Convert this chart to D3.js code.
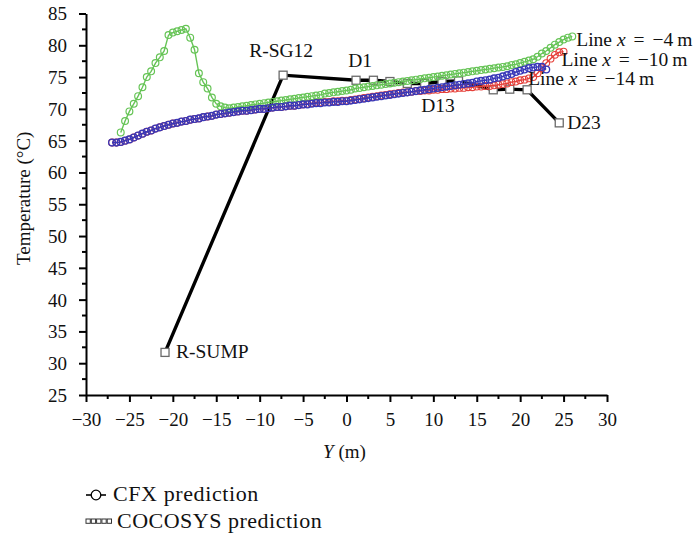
<!DOCTYPE html>
<html>
<head>
<meta charset="utf-8">
<script src="https://cdn.jsdelivr.net/npm/d3@7"></script>
<style>
  html, body { margin: 0; padding: 0; background: #fff; }
  svg text { font-family: "Liberation Serif", "Times New Roman", serif; fill: #111; }
</style>
</head>
<body>
<svg id="chart" width="698" height="537"></svg>
<script>
// Horizontal stations along the monitoring lines (m)
const stations = [-27,-26.5,-26,-25.5,-25,-24.5,-24,-23.5,-23,-22.5,-22,-21.5,-21,-20.5,-20,-19.5,-19,-18.5,-18,-17.5,-17,-16.5,-16,-15.5,-15,-14.5,-14,-13.5,-13,-12.5,-12,-11.5,-11,-10.5,-10,-9.5,-9,-8.5,-8,-7.5,-7,-6.5,-6,-5.5,-5,-4.5,-4,-3.5,-3,-2.5,-2,-1.5,-1,-0.5,0,0.5,1,1.5,2,2.5,3,3.5,4,4.5,5,5.5,6,6.5,7,7.5,8,8.5,9,9.5,10,10.5,11,11.5,12,12.5,13,13.5,14,14.5,15,15.5,16,16.5,17,17.5,18,18.5,19,19.5,20,20.5,21,21.5,22,22.5,23,23.5,24,24.5,25,25.5,26];

// CFX temperatures (°C) along line x = -4 m
const cfxLineM4 = [null,null,
  66.3,68.1,69.6,70.8,72.0,73.4,75.0,75.9,77.2,78.1,79.1,81.6,82.0,82.2,82.4,82.6,81.2,79.3,75.6,74.2,73.2,71.8,70.8,70.4,
  70.2,70.1,70.2,70.3,70.4,70.5,70.6,70.7,70.8,70.9,71.0,71.1,71.2,71.3,71.4,71.5,71.6,71.7,71.8,71.9,72.0,72.1,72.2,72.4,
  72.5,72.6,72.7,72.8,72.9,73.0,73.2,73.3,73.4,73.5,73.6,73.7,73.8,73.9,74.0,74.1,74.2,74.3,74.4,74.5,74.6,74.7,74.8,74.9,
  75.0,75.1,75.2,75.3,75.4,75.5,75.6,75.7,75.8,75.9,76.0,76.1,76.2,76.3,76.4,76.5,76.6,76.7,76.9,77.0,77.2,77.4,77.6,77.8,
  78.2,78.7,79.1,79.6,80.1,80.5,80.9,81.2,81.4];

// CFX temperatures (°C) along line x = -10 m
const cfxLineM10 = [
  64.7,64.7,64.8,65.0,65.2,65.5,65.8,66.1,66.4,66.6,66.9,67.1,67.3,67.5,67.7,67.8,68.0,68.1,68.3,68.4,68.5,68.7,68.8,68.9,
  69.1,69.2,69.3,69.4,69.5,69.6,69.7,69.7,69.8,69.9,70.0,70.0,70.1,70.2,70.3,70.3,70.4,70.5,70.5,70.6,70.7,
  70.8,70.9,71.0,71.0,71.1,71.1,71.2,71.2,71.3,71.3,71.4,71.5,71.6,71.7,71.8,71.9,72.0,72.1,72.2,72.3,72.4,72.5,72.6,72.6,
  72.7,72.8,72.8,72.9,72.9,73.0,73.0,73.1,73.1,73.2,73.2,73.3,73.3,73.4,73.4,73.5,73.5,73.6,73.6,73.7,73.8,73.9,74.0,74.2,
  74.3,74.5,74.6,74.8,75.0,75.6,76.4,77.2,77.9,78.5,78.9,79.0,null,null];

// CFX temperatures (°C) along line x = -14 m
const cfxLineM14 = [
  64.7,64.7,64.8,65.0,65.2,65.5,65.8,66.1,66.4,66.6,66.9,67.1,67.3,67.5,67.7,67.8,68.0,68.1,68.3,68.4,68.5,68.7,68.8,68.9,
  69.1,69.2,69.3,69.4,69.5,69.6,69.7,69.7,69.8,69.9,70.0,70.0,70.1,70.2,70.3,70.3,70.4,70.5,70.5,70.6,70.7,70.7,70.8,70.9,
  70.9,71.0,71.0,71.1,71.1,71.2,71.2,71.3,71.4,71.5,71.6,71.7,71.8,71.9,72.0,72.1,72.2,72.3,72.4,72.5,72.6,72.7,72.8,72.9,
  73.0,73.1,73.2,73.3,73.4,73.5,73.6,73.7,73.8,73.9,74.0,74.1,74.3,74.4,74.5,74.6,74.8,74.9,75.1,75.3,75.5,75.8,76.0,76.2,
  76.4,76.5,76.6,76.6,76.2,null,null,null,null,null,null];

// COCOSYS compartment results: position (m) and temperature (°C)
const cocosysY = [-20.9, -7.3, 1.1, 3.1, 5.0, 7.0, 9.0, 11.0, 12.9, 16.9, 18.8, 20.8, 24.5];
const cocosysT = [31.7, 75.3, 74.5, 74.5, 74.3, 74.0, 74.0, 74.3, 74.4, 73.0, 73.1, 73.0, 67.8];
const cocosysNames = ["R-SUMP", "R-SG12", "D1", "", "", "", "", "D13", "", "", "", "", "D23"];

const seriesNames = ["Line x = \u22124 m", "Line x = \u221210 m", "Line x = \u221214 m"];
const xTicks = [-30,-25,-20,-15,-10,-5,0,5,10,15,20,25,30];
const yTicks = [25,30,35,40,45,50,55,60,65,70,75,80,85];

const svg = d3.select("#chart");
const x = d3.scaleLinear().domain([-30, 30]).range([86, 607]);
const y = d3.scaleLinear().domain([25, 85]).range([395, 13.5]);
const fmt = d => d3.format("")(d);

// x axis: major ticks every 5 m, minor ticks halfway
const xMinor = d3.range(0, xTicks.length - 1).map(i => (xTicks[i] + xTicks[i + 1]) / 2);
const xAxisG = svg.append("g").attr("transform", `translate(0,${y(25)})`)
  .call(d3.axisBottom(x).tickValues(xTicks).tickSize(7).tickSizeOuter(0).tickFormat(fmt));
svg.append("g").attr("transform", `translate(0,${y(25)})`)
  .selectAll("line").data(xMinor).join("line")
  .attr("x1", d => x(d)).attr("x2", d => x(d)).attr("y1", 0).attr("y2", 4)
  .attr("stroke", "#000").attr("stroke-width", 2);
xAxisG.selectAll("text").attr("y", 31).attr("dy", 0).style("font-size", "19px");

const yMinor = d3.range(0, yTicks.length - 1).map(i => (yTicks[i] + yTicks[i + 1]) / 2);
const yAxisG = svg.append("g").attr("transform", `translate(${x(-30)},0)`)
  .call(d3.axisLeft(y).tickValues(yTicks).tickSize(7).tickSizeOuter(0).tickFormat(fmt));
svg.append("g").attr("transform", `translate(${x(-30)},0)`)
  .selectAll("line").data(yMinor).join("line")
  .attr("y1", d => y(d)).attr("y2", d => y(d)).attr("x1", 0).attr("x2", -4)
  .attr("stroke", "#000").attr("stroke-width", 2);
yAxisG.selectAll("text").attr("x", -19).attr("dy", "0.34em").style("font-size", "19px");

[xAxisG, yAxisG].forEach(g => {
  g.select(".domain").attr("stroke", "#000").attr("stroke-width", 2);
  g.selectAll(".tick line").attr("stroke", "#000").attr("stroke-width", 2);
  g.selectAll("text").attr("fill", "#111");
  g.attr("font-family", null).attr("font-size", null);
});

// axis titles
svg.append("text")
  .attr("transform", `translate(30,${(y(25) + y(85)) / 2 - 6}) rotate(-90)`)
  .attr("text-anchor", "middle").style("font-size", "19px")
  .text("Temperature (\u00B0C)");
const xt = svg.append("text").attr("x", x(0) - 2).attr("y", 458).attr("text-anchor", "middle").style("font-size", "19px");
xt.append("tspan").attr("font-style", "italic").text("Y");
xt.append("tspan").text(" (m)");

// COCOSYS line and squares
const cocosys = cocosysY.map((v, i) => ({ y: v, t: cocosysT[i], name: cocosysNames[i] }));
svg.append("path")
  .datum(cocosys)
  .attr("fill", "none").attr("stroke", "#000").attr("stroke-width", 3.4)
  .attr("d", d3.line().x(d => x(d.y)).y(d => y(d.t)));
svg.append("g").selectAll("rect").data(cocosys).join("rect")
  .attr("x", d => x(d.y) - 4).attr("y", d => y(d.t) - 4)
  .attr("width", 8).attr("height", 8)
  .attr("fill", "#fff").attr("stroke", "#6a6a6a").attr("stroke-width", 1.3);

// CFX series (drawn back to front)
const cfx = [
  { name: seriesNames[1], values: cfxLineM10, color: "#e5403a", sw: 1.1, dx: -2, dy: 14 },
  { name: seriesNames[0], values: cfxLineM4, color: "#66c456", sw: 1.2, dx: 4, dy: 10 },
  { name: seriesNames[2], values: cfxLineM14, color: "#3838b8", sw: 1.35, dx: -18, dy: 16 }
];
const cfxLine = d3.line().defined(d => d.t != null).x(d => x(d.y)).y(d => y(d.t));
cfx.forEach(s => {
  const pts = stations.map((v, i) => ({ y: v, t: s.values[i] }));
  const g = svg.append("g");
  g.append("path").datum(pts).attr("fill", "none").attr("stroke", s.color).attr("stroke-width", 1.4).attr("d", cfxLine);
  g.selectAll("circle").data(pts.filter(d => d.t != null)).join("circle")
    .attr("cx", d => x(d.y)).attr("cy", d => y(d.t)).attr("r", 3.4)
    .attr("fill", "none").attr("stroke", s.color).attr("stroke-width", s.sw);
});

// series labels at the end of each line
cfx.forEach(s => {
  const pts = stations.map((v, i) => ({ y: v, t: s.values[i] })).filter(d => d.t != null);
  const last = pts[pts.length - 1];
  const [lead, rest] = s.name.split(" x = ");
  const [num] = rest.split(" m");
  const t = svg.append("text").attr("x", x(last.y) + s.dx).attr("y", y(last.t) + s.dy).style("font-size", "19.5px");
  t.append("tspan").text(lead + " ");
  t.append("tspan").attr("font-style", "italic").text("x");
  t.append("tspan").attr("dx", 8).text("=");
  t.append("tspan").attr("dx", 8).text(num);
  t.append("tspan").attr("dx", 4).text("m");
});

// COCOSYS node labels
const nodeOffsets = {
  "R-SUMP": { dx: 11, dy: 6, anchor: "start" },
  "R-SG12": { dx: -2, dy: -18, anchor: "middle" },
  "D1": { dx: 4, dy: -13, anchor: "middle" },
  "D13": { dx: -4, dy: 30, anchor: "middle" },
  "D23": { dx: 8, dy: 6, anchor: "start" }
};
svg.append("g").selectAll("text").data(cocosys.filter(d => d.name)).join("text")
  .attr("x", d => x(d.y) + nodeOffsets[d.name].dx)
  .attr("y", d => y(d.t) + nodeOffsets[d.name].dy)
  .attr("text-anchor", d => nodeOffsets[d.name].anchor)
  .style("font-size", "19.5px")
  .text(d => d.name);

// legend
const lg = svg.append("g");
lg.append("line").attr("x1", 86).attr("x2", 106).attr("y1", 495).attr("y2", 495).attr("stroke", "#000").attr("stroke-width", 1.6);
lg.append("circle").attr("cx", 96).attr("cy", 495).attr("r", 4.8).attr("fill", "#fff").attr("stroke", "#000").attr("stroke-width", 1.3);
lg.append("text").attr("x", 113).attr("y", 501).style("font-size", "22px").style("letter-spacing", "0.6px").text("CFX prediction");
lg.selectAll("rect").data([0, 1, 2, 3, 4]).join("rect")
  .attr("x", i => 86 + i * 5.3).attr("y", 519).attr("width", 4.3).attr("height", 4.3)
  .attr("fill", "#fff").attr("stroke", "#333").attr("stroke-width", 1);
lg.append("text").attr("x", 117).attr("y", 528).style("font-size", "22px").style("letter-spacing", "0.5px").text("COCOSYS prediction");
</script>
</body>
</html>
